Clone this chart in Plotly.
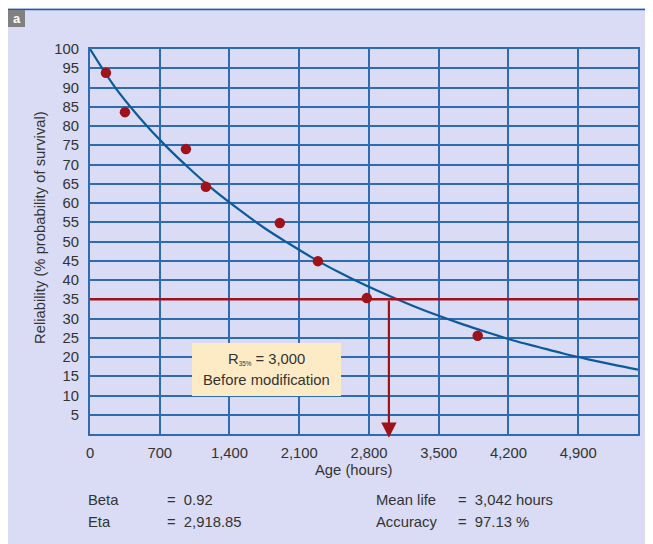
import plotly.graph_objects as go

# ---- data ----
obs_age = [160, 351, 963, 1163, 1905, 2287, 2778, 3891]
obs_rel = [93.8, 83.6, 74.0, 64.2, 54.8, 44.9, 35.3, 25.5]

curve_age = [0, 250, 500, 750, 1000, 1250, 1500, 1750, 2000, 2250, 2500, 2750,
             3000, 3250, 3500, 3750, 4000, 4250, 4500, 4750, 5000, 5250, 5500]
curve_rel = [100, 90.1, 82.1, 75.1, 68.9, 63.2, 58.2, 53.5, 49.4, 45.5, 42.0, 38.8,
             35.9, 33.2, 30.7, 28.4, 26.3, 24.3, 22.6, 20.9, 19.4, 18.0, 16.7]

target_rel = 35
target_age = 3000

x_ticks = [0, 700, 1400, 2100, 2800, 3500, 4200, 4900]
x_tick_labels = ["0", "700", "1,400", "2,100", "2,800", "3,500", "4,200", "4,900"]
y_ticks = list(range(5, 101, 5))

stats_left = [("Beta", "0.92"), ("Eta", "2,918.85")]
stats_right = [("Mean life", "3,042 hours"), ("Accuracy", "97.13 %")]

# ---- styling ----
OFF = 8  # page body margin
W, H = 653 - OFF, 544 - OFF
L, R, T, B = 82, 15, 41, 110
PW, PH = W - L - R, H - T - B
BG = "#d9dcf4"
GRID = "#2f6bb2"
CURVE = "#0b5a9e"
RED = "#a0121b"
TXT = "#333333"
FONT = "Liberation Sans, Arial, sans-serif"


def px(x):
    # x in reference-page pixels -> paper fraction
    return (x - OFF - L) / PW


def py(y):
    return (H - B - (y - OFF)) / PH


def label(x, y, text, xanchor="center", size=14.8, **kw):
    return dict(xref="paper", yref="paper", x=px(x), y=py(y), text=text,
                showarrow=False, xanchor=xanchor, yanchor="middle",
                font=dict(color=TXT, size=size, family=FONT), **kw)


fig = go.Figure()
fig.add_trace(go.Scatter(x=curve_age, y=curve_rel, mode="lines",
                         line=dict(color=CURVE, width=2.2, shape="spline"),
                         hoverinfo="skip", showlegend=False))
fig.add_trace(go.Scatter(x=obs_age, y=obs_rel, mode="markers",
                         marker=dict(color=RED, size=10.5),
                         showlegend=False, cliponaxis=False))

shapes = [
    # top rule
    dict(type="line", xref="paper", yref="paper", x0=px(8), x1=px(653), y0=py(9.5), y1=py(9.5),
         line=dict(color="#1f5fa5", width=1.5)),
    # "a" label box
    dict(type="rect", xref="paper", yref="paper", x0=px(8), x1=px(25), y0=py(27), y1=py(10),
         fillcolor="#808080", line=dict(width=0)),
    # horizontal 35% line
    dict(type="line", xref="x", yref="y", x0=0, x1=5500, y0=target_rel, y1=target_rel,
         line=dict(color=RED, width=2.5)),
    # annotation box
    dict(type="rect", xref="paper", yref="paper", x0=px(192), x1=px(341), y0=py(396), y1=py(343),
         fillcolor="#fdebc6", line=dict(width=0)),
]

annotations = [
    dict(xref="paper", yref="paper", x=px(16.5), y=py(18.5), text="<b>a</b>", showarrow=False,
         xanchor="center", yanchor="middle",
         font=dict(color="white", size=13, family=FONT)),
    # arrow down to x axis
    dict(x=target_age, y=-1, xref="x", yref="y", ax=target_age, ay=target_rel,
         axref="x", ayref="y", showarrow=True, arrowhead=2, arrowsize=1.4,
         arrowwidth=2.2, arrowcolor=RED, text=""),
    label(266.5, 359, "R<span style='font-size:9px'><sub>35%</sub></span> = 3,000"),
    label(266.5, 380, "Before modification"),
    label(40, 228, "Reliability (% probability of survival)", textangle=-90),
    label(353, 470, "Age (hours)"),
]

for i, (k, v) in enumerate(stats_left):
    yy = 500 + 22 * i
    annotations.append(label(86, yy, k, xanchor="left"))
    annotations.append(label(165, yy, "=  " + v, xanchor="left"))
for i, (k, v) in enumerate(stats_right):
    yy = 500 + 22 * i
    annotations.append(label(374, yy, k, xanchor="left"))
    annotations.append(label(456, yy, "=  " + v, xanchor="left"))

fig.update_layout(
    width=W, height=H,
    margin=dict(l=L, r=R, t=T, b=B),
    paper_bgcolor=BG, plot_bgcolor=BG,
    shapes=shapes, annotations=annotations,
    font=dict(family=FONT, color=TXT, size=14.8),
    xaxis=dict(range=[0, 5500], tickvals=x_ticks, ticktext=x_tick_labels,
               showgrid=True, gridcolor=GRID, gridwidth=1.5, zeroline=False,
               showline=True, linecolor=GRID, linewidth=2, mirror=True,
               ticks="outside", ticklen=4, tickcolor="rgba(0,0,0,0)",
               tickfont=dict(size=14.8, color=TXT)),
    yaxis=dict(range=[0, 100], tickvals=y_ticks, showgrid=True, gridcolor=GRID,
               gridwidth=1.5, zeroline=False, showline=True, linecolor=GRID,
               linewidth=2, mirror=True, ticks="outside", ticklen=6, tickcolor="rgba(0,0,0,0)",
               tickfont=dict(size=14.8, color=TXT)),
)

fig.write_html("out.html")
